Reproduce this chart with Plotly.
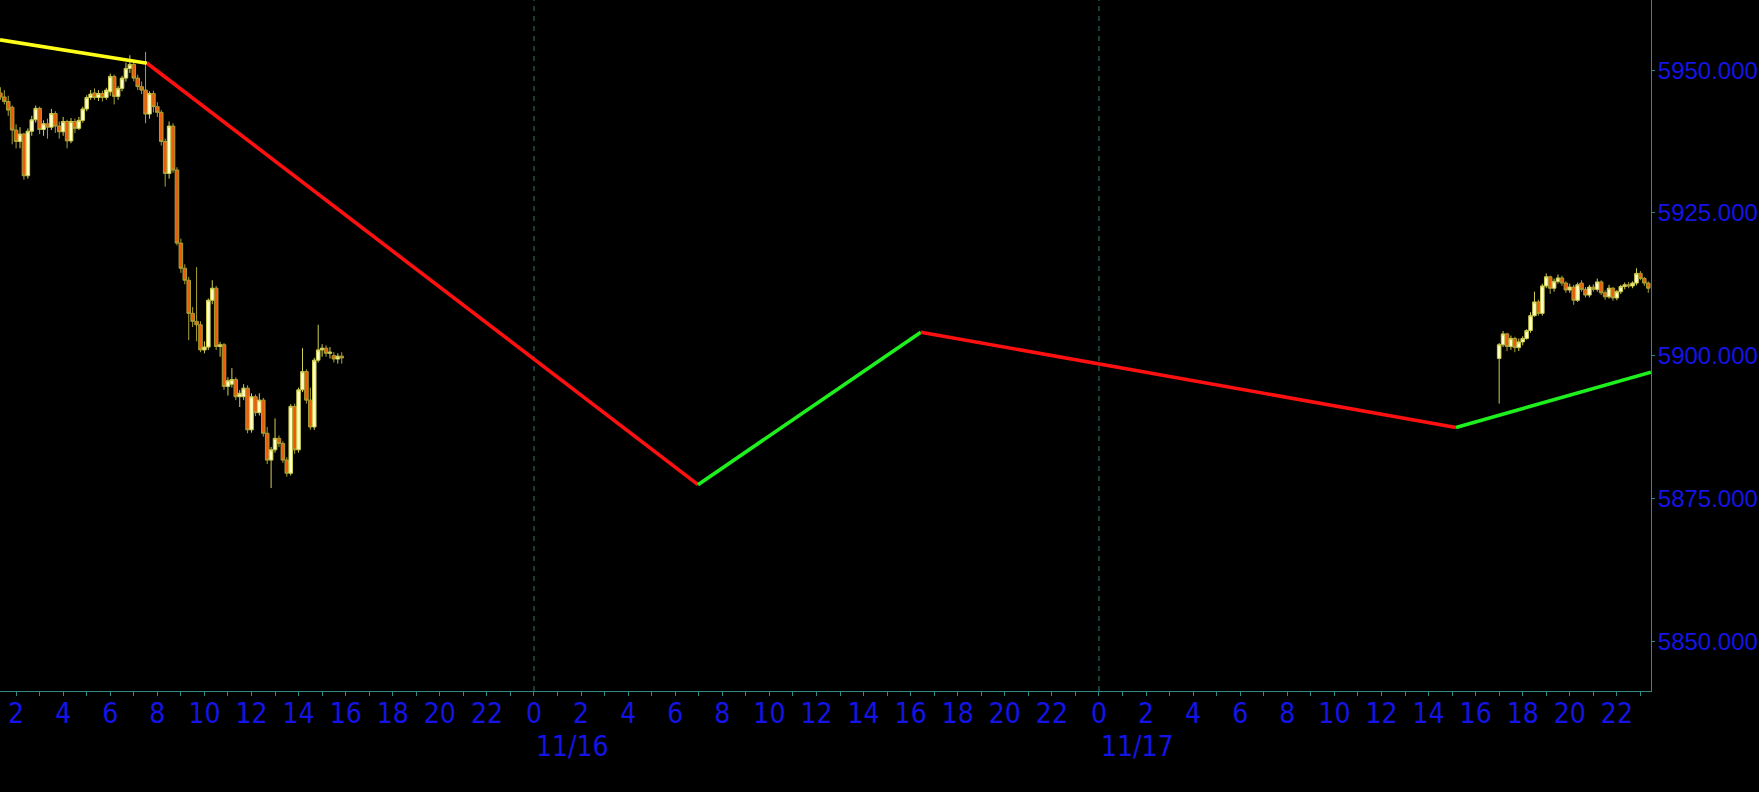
import pandas as pd
import plotly.graph_objects as go

# ---------------- data (10-minute bars) ----------------
s1_start = "2024-11-15 01:20"
s1_open = [5946.0, 5945.3, 5944.5, 5943.5, 5939.5, 5937.5, 5938.8, 5931.5, 5939.3, 5941.3,
           5943.3, 5939.6, 5940.6, 5940.0, 5942.4, 5940.2, 5939.2, 5941.0, 5937.6, 5941.0,
           5939.8, 5941.2, 5943.2, 5945.2, 5946.0, 5945.2, 5945.9, 5945.2, 5946.2, 5948.9,
           5945.4, 5946.8, 5948.6, 5950.3, 5951.0, 5948.6, 5947.1, 5946.5, 5942.3, 5945.9,
           5943.6, 5942.6, 5937.5, 5931.9, 5940.2, 5932.5, 5919.7, 5915.3, 5913.2, 5907.4,
           5906.0, 5905.4, 5901.0, 5901.5, 5909.7, 5911.8, 5901.6, 5901.9, 5894.6, 5895.0,
           5895.8, 5892.8, 5892.8, 5894.3, 5887.0, 5892.8, 5890.0, 5892.2, 5886.4, 5881.7,
           5883.5, 5885.5, 5884.6, 5881.7, 5879.4, 5891.1, 5883.5, 5894.0, 5897.2, 5892.2,
           5887.5, 5899.2, 5901.0, 5901.3, 5900.4, 5900.0, 5899.4, 5899.9]
s1_high = [5947.0, 5946.5, 5945.5, 5943.8, 5940.5, 5940.0, 5939.0, 5939.8, 5942.0, 5943.8,
           5943.6, 5941.2, 5941.5, 5943.2, 5942.8, 5941.0, 5941.8, 5941.3, 5941.6, 5941.5,
           5941.8, 5943.6, 5945.6, 5946.5, 5946.8, 5946.5, 5946.4, 5946.9, 5949.4, 5949.2,
           5947.2, 5949.0, 5951.3, 5952.6, 5951.5, 5949.2, 5948.0, 5953.2, 5946.3, 5946.4,
           5944.4, 5943.0, 5938.0, 5941.0, 5940.7, 5933.0, 5920.5, 5916.0, 5913.8, 5908.5,
           5915.5, 5906.0, 5902.5, 5910.0, 5913.2, 5912.2, 5902.4, 5902.2, 5896.2, 5897.8,
           5896.2, 5894.0, 5895.0, 5894.8, 5893.4, 5893.2, 5893.4, 5892.6, 5887.5, 5884.0,
           5889.0, 5886.0, 5885.0, 5882.2, 5891.5, 5891.6, 5894.4, 5901.3, 5897.6, 5894.4,
           5899.6, 5905.4, 5902.0, 5901.8, 5901.5, 5900.6, 5900.4, 5900.6]
s1_low = [5944.8, 5944.0, 5942.0, 5937.0, 5936.3, 5936.3, 5930.8, 5931.0, 5938.5, 5940.8,
          5938.8, 5938.5, 5938.0, 5939.5, 5939.0, 5938.0, 5938.5, 5936.3, 5937.2, 5939.0,
          5939.5, 5940.8, 5942.8, 5944.8, 5944.8, 5944.6, 5944.5, 5944.8, 5945.5, 5944.0,
          5944.8, 5946.3, 5948.0, 5949.5, 5948.0, 5946.5, 5945.8, 5940.7, 5941.5, 5942.6,
          5941.8, 5936.8, 5929.6, 5931.0, 5932.0, 5919.3, 5914.5, 5912.5, 5902.7, 5905.0,
          5902.5, 5900.6, 5900.4, 5901.0, 5909.0, 5901.0, 5899.8, 5894.0, 5893.0, 5894.4,
          5892.2, 5891.0, 5892.2, 5886.4, 5886.5, 5889.4, 5889.5, 5885.8, 5881.0, 5876.8,
          5883.0, 5884.0, 5881.2, 5878.8, 5879.0, 5882.8, 5883.0, 5893.6, 5891.6, 5887.0,
          5887.0, 5898.8, 5899.8, 5899.8, 5899.5, 5898.8, 5898.6, 5898.6]
s1_close = [5945.3, 5944.5, 5943.0, 5939.5, 5937.5, 5938.8, 5931.5, 5939.3, 5941.3, 5943.3,
            5939.6, 5940.6, 5940.0, 5942.4, 5940.2, 5939.2, 5941.0, 5937.6, 5941.0, 5939.8,
            5941.2, 5943.2, 5945.2, 5945.8, 5945.2, 5945.9, 5945.2, 5946.5, 5948.9, 5945.4,
            5946.8, 5948.6, 5950.3, 5951.0, 5948.6, 5947.1, 5946.5, 5942.3, 5945.9, 5943.6,
            5942.6, 5937.5, 5931.9, 5940.2, 5932.5, 5919.7, 5915.3, 5913.2, 5907.4, 5906.0,
            5905.4, 5901.0, 5901.5, 5909.7, 5911.8, 5901.6, 5901.9, 5894.6, 5895.6, 5895.8,
            5892.8, 5893.4, 5894.3, 5887.0, 5892.8, 5890.0, 5892.2, 5886.4, 5881.7, 5883.5,
            5885.5, 5884.6, 5881.7, 5879.4, 5891.1, 5883.5, 5894.0, 5897.2, 5892.2, 5887.5,
            5899.2, 5901.0, 5901.3, 5900.4, 5900.6, 5899.4, 5899.9, 5899.6]

s2_start = "2024-11-17 17:00"
s2_open = [5899.5, 5901.9, 5903.8, 5901.6, 5903.0, 5901.4, 5902.4, 5903.0, 5904.4, 5907.0,
           5909.4, 5907.4, 5912.2, 5913.8, 5911.8, 5913.0, 5913.6, 5912.7, 5911.5, 5912.0,
           5909.7, 5912.7, 5911.6, 5910.6, 5912.0, 5911.6, 5912.9, 5911.0, 5910.3, 5911.8,
           5910.1, 5911.2, 5912.1, 5912.4, 5912.2, 5912.7, 5914.4, 5913.5, 5912.7]
s2_high = [5902.2, 5904.3, 5904.0, 5903.5, 5903.3, 5903.0, 5903.4, 5904.6, 5907.6, 5911.2,
           5909.8, 5912.6, 5914.4, 5914.0, 5913.5, 5914.2, 5914.0, 5913.0, 5912.6, 5912.4,
           5912.8, 5913.2, 5912.0, 5912.4, 5912.5, 5913.5, 5913.2, 5911.4, 5912.4, 5912.0,
           5911.5, 5912.4, 5912.8, 5912.9, 5913.0, 5915.3, 5914.8, 5913.8, 5913.0]
s2_low = [5891.6, 5901.5, 5900.8, 5901.0, 5900.6, 5900.8, 5901.8, 5902.8, 5904.0, 5906.8,
          5907.0, 5907.0, 5911.8, 5910.8, 5911.2, 5912.6, 5912.2, 5911.0, 5911.0, 5908.9,
          5909.4, 5911.2, 5910.2, 5910.2, 5911.2, 5911.2, 5910.6, 5909.8, 5910.0, 5909.6,
          5909.7, 5910.8, 5911.6, 5911.8, 5911.8, 5912.3, 5913.2, 5912.2, 5911.0]
s2_close = [5901.9, 5903.8, 5901.6, 5903.0, 5901.4, 5902.4, 5903.0, 5904.4, 5907.0, 5909.4,
            5907.4, 5912.2, 5913.8, 5911.8, 5913.0, 5913.6, 5912.7, 5911.5, 5912.0, 5909.7,
            5912.4, 5911.6, 5910.6, 5912.0, 5911.6, 5912.9, 5911.0, 5910.3, 5911.8, 5910.1,
            5911.2, 5912.1, 5912.4, 5912.2, 5912.7, 5914.4, 5913.5, 5912.7, 5911.8]

# zigzag indicator
zz_time = ["2024-11-15 01:19", "2024-11-15 07:34", "2024-11-16 06:58",
           "2024-11-16 16:26", "2024-11-17 15:10", "2024-11-17 23:27"]
zz_value = [5955.3, 5951.2, 5877.4, 5904.1, 5887.4, 5897.1]
zz_color = ["#ffff1a", "#ff1010", "#1ef01e", "#ff1010", "#1ef01e"]

# axes
x_range = ["2024-11-15 01:19", "2024-11-17 23:27"]
y_range = [5841.26, 5962.28]
y_ticks = [5850, 5875, 5900, 5925, 5950]
day_starts = ["2024-11-16 00:00", "2024-11-17 00:00"]
day_labels = ["11/16", "11/17"]

# ---------------- figure ----------------
t1 = pd.date_range(s1_start, periods=len(s1_open), freq="10min")
t2 = pd.date_range(s2_start, periods=len(s2_open), freq="10min")
times = list(t1) + list(t2)

AX = "#2f8a86"
TXT = "#1414e6"
NARROW = "Liberation Sans Narrow, DejaVu Sans Condensed, Liberation Sans"

fig = go.Figure()
fig.add_trace(go.Candlestick(
    x=times,
    open=s1_open + s2_open, high=s1_high + s2_high,
    low=s1_low + s2_low, close=s1_close + s2_close,
    increasing=dict(line=dict(color="#cfcf50", width=1), fillcolor="#ffffc8"),
    decreasing=dict(line=dict(color="#a8a234", width=1), fillcolor="#f05a0c"),
    whiskerwidth=0, showlegend=False, hoverinfo="skip",
))

for i, c in enumerate(zz_color):
    fig.add_trace(go.Scatter(
        x=zz_time[i:i + 2], y=zz_value[i:i + 2], mode="lines",
        line=dict(color=c, width=3.6), showlegend=False, hoverinfo="skip",
    ))

for d in day_starts:
    fig.add_vline(x=d, line=dict(color="#2a7a74", width=1, dash="5px,5px"), layer="below")

tick_times = pd.date_range("2024-11-15 02:00", "2024-11-17 22:00", freq="2h")
tick_text = [str(t.hour) for t in tick_times]

for d, lab in zip(day_starts, day_labels):
    fig.add_annotation(x=d, y=-0.080, xref="x", yref="paper", text=lab,
                       showarrow=False, xanchor="left", yanchor="middle",
                       font=dict(family=NARROW, size=28, color=TXT))

fig.update_layout(
    width=1759, height=792,
    margin=dict(l=0, r=108, t=0, b=101),
    paper_bgcolor="#000000", plot_bgcolor="#000000",
    showlegend=False,
    boxgap=0.05, boxgroupgap=0.05,
    xaxis=dict(
        type="date", range=x_range, rangeslider=dict(visible=False),
        showgrid=False, zeroline=False,
        showline=True, linecolor=AX, linewidth=1,
        tickmode="array", tickvals=list(tick_times), ticktext=tick_text,
        ticks="outside", ticklen=4, tickcolor=AX,
        ticklabelstandoff=-7,
        minor=dict(dtick=3600000, tick0="2024-11-15", ticks="outside", ticklen=4, tickcolor=AX),
        tickfont=dict(family=NARROW, size=28, color=TXT),
        fixedrange=True,
    ),
    yaxis=dict(
        side="right", range=y_range, showgrid=False, zeroline=False,
        showline=True, linecolor=AX, linewidth=1,
        tickmode="array", tickvals=y_ticks, tickformat=".3f",
        ticks="outside", ticklen=3, tickcolor=AX,
        ticklabelstandoff=-2,
        tickfont=dict(family="Liberation Sans, Arial, sans-serif", size=24, color=TXT),
        fixedrange=True,
    ),
)

fig.write_html(
    "out.html",
    config={"displayModeBar": False},
    post_script="document.body.style.margin='0';document.body.style.overflow='hidden';",
)
